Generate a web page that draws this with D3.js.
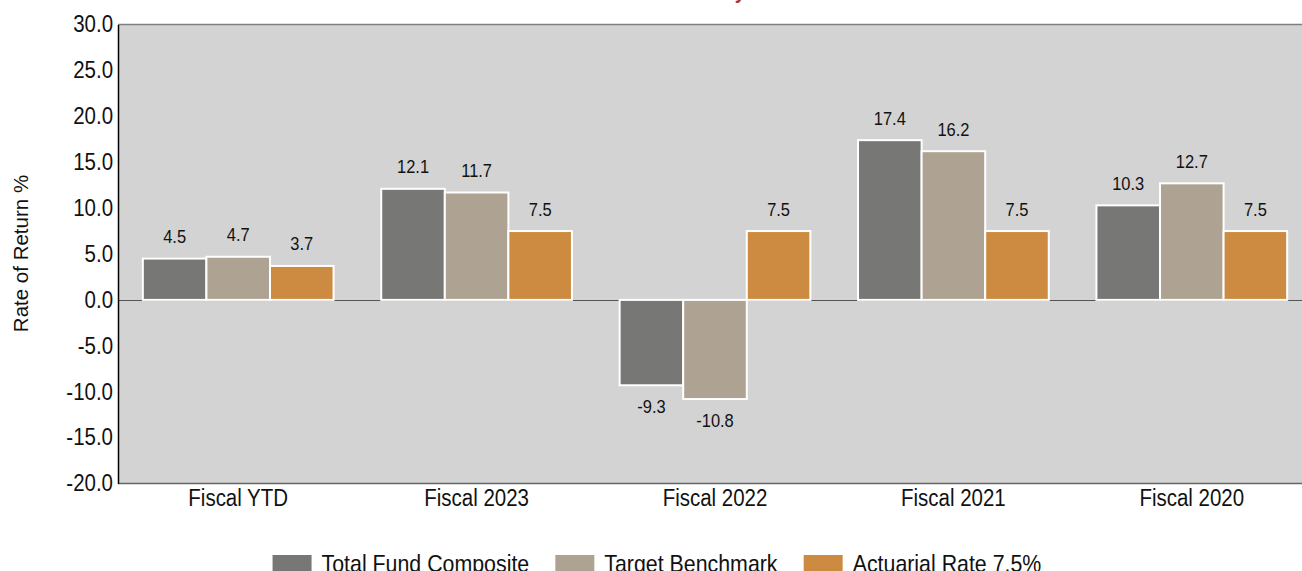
<!DOCTYPE html>
<html>
<head>
<meta charset="utf-8">
<script src="https://cdn.jsdelivr.net/npm/d3@7"></script>
<style>
  html, body { margin: 0; padding: 0; background: #fff; overflow: hidden; }
  svg { display: block; font-family: "Liberation Sans", Arial, sans-serif; }
</style>
</head>
<body>
<svg id="chart" width="1302" height="571"></svg>
<script>
// ---- data ----
const categories = ["Fiscal YTD", "Fiscal 2023", "Fiscal 2022", "Fiscal 2021", "Fiscal 2020"];
const seriesNames = ["Total Fund Composite", "Target Benchmark", "Actuarial Rate 7.5%"];
const totalFund = [4.5, 12.1, -9.3, 17.4, 10.3];
const targetBenchmark = [4.7, 11.7, -10.8, 16.2, 12.7];
const actuarialRate = [3.7, 7.5, 7.5, 7.5, 7.5];
const yTicks = [-20, -15, -10, -5, 0, 5, 10, 15, 20, 25, 30];
const colors = ["#777775", "#aea392", "#cd8b42"];
const titleText = "Total Fund Performance by Fiscal Year";
const yTitle = "Rate of Return %";

const seriesValues = [totalFund, targetBenchmark, actuarialRate];
const SX = 0.89; // horizontal condensation of text

const svg = d3.select("#chart");
const W = 1302, H = 571;
const plot = { left: 118, top: 24.5, right: 1311, bottom: 483.5 };

const y = d3.scaleLinear().domain([-20, 30]).range([plot.bottom, plot.top]);
const x0 = d3.scaleBand().domain(categories).range([119, 1311]).padding(0);
const x1 = d3.scaleBand().domain(d3.range(seriesNames.length))
  .range([x0.bandwidth() * 0.1, x0.bandwidth() * 0.9]).padding(0);

function addText(g, x, yy, str, size, anchor, opts = {}) {
  return g.append("text")
    .attr("transform", `translate(${x},${yy}) scale(${SX},1)`)
    .attr("text-anchor", anchor)
    .attr("font-size", size)
    .attr("fill", opts.fill || "#111")
    .attr("font-weight", opts.weight || "normal")
    .text(str);
}

// title (mostly above the visible area)
const title = svg.append("text")
  .attr("font-size", 22).attr("font-weight", "bold").attr("fill", "#a8382a")
  .attr("y", -2).attr("x", 0).text(titleText);
const idx = titleText.indexOf("by") + 1;
const off = title.node().getSubStringLength(0, idx);
title.attr("transform", `translate(${735 - off * SX},0) scale(${SX},1)`);

// plot background
svg.append("rect")
  .attr("x", plot.left).attr("y", plot.top)
  .attr("width", plot.right - plot.left).attr("height", plot.bottom - plot.top)
  .attr("fill", "#d3d3d3");

// top border
svg.append("line")
  .attr("x1", plot.left).attr("x2", W)
  .attr("y1", plot.top).attr("y2", plot.top)
  .attr("stroke", "#7f7f7f").attr("stroke-width", 1.5);

// bottom border
svg.append("line")
  .attr("x1", plot.left).attr("x2", W)
  .attr("y1", plot.bottom).attr("y2", plot.bottom)
  .attr("stroke", "#666").attr("stroke-width", 1.5);

// zero line
svg.append("line")
  .attr("x1", plot.left).attr("x2", W)
  .attr("y1", Math.round(y(0)) + 0.5).attr("y2", Math.round(y(0)) + 0.5)
  .attr("stroke", "#555").attr("stroke-width", 1);

// bars
const groups = svg.append("g").selectAll("g").data(categories).join("g")
  .attr("transform", d => `translate(${x0(d)},0)`);

groups.each(function (cat, ci) {
  const g = d3.select(this);
  seriesValues.forEach((vals, si) => {
    const v = vals[ci];
    g.append("rect")
      .attr("x", x1(si))
      .attr("y", y(Math.max(0, v)))
      .attr("width", x1.bandwidth())
      .attr("height", Math.abs(y(v) - y(0)))
      .attr("fill", colors[si])
      .attr("stroke", "#fff")
      .attr("stroke-width", 2);
  });
  seriesValues.forEach((vals, si) => {
    const v = vals[ci];
    const cx = x1(si) + x1.bandwidth() / 2;
    const ty = v >= 0 ? y(v) - 15.5 : y(v) + 28;
    addText(g, cx, ty, v.toFixed(1), 18.5, "middle");
  });
});

// y axis
const yAxis = svg.append("g")
  .attr("transform", `translate(${plot.left},0)`)
  .call(d3.axisLeft(y).tickValues(yTicks).tickFormat(d => d.toFixed(1)).tickSize(0).tickPadding(5.6));
yAxis.select(".domain").attr("stroke", "#000").attr("stroke-width", 1.5);
yAxis.selectAll("text")
  .attr("font-size", 23)
  .attr("fill", "#111")
  .attr("font-family", "\"Liberation Sans\", Arial, sans-serif")
  .attr("transform", `scale(${SX},1)`);

// x axis labels
const xAxis = svg.append("g")
  .attr("transform", `translate(0,${plot.bottom})`)
  .call(d3.axisBottom(x0).tickSize(0));
xAxis.select(".domain").remove();
xAxis.selectAll("text")
  .attr("y", 22.5).attr("dy", 0)
  .attr("font-size", 23)
  .attr("fill", "#111")
  .attr("font-family", "\"Liberation Sans\", Arial, sans-serif")
  .attr("transform", `scale(${SX},1)`);

// y axis title
svg.append("text")
  .attr("transform", `translate(28,253.5) rotate(-90)`)
  .attr("text-anchor", "middle")
  .attr("font-size", 20.5)
  .attr("fill", "#111")
  .text(yTitle);

// legend
const legend = svg.append("g");
const swW = 39, swH = 17, gapText = 10, gapItem = 26;
const legendY = 555;
const items = [];
let cursor = 0;
seriesNames.forEach((name, i) => {
  const t = legend.append("text")
    .attr("font-size", 24).attr("fill", "#111").text(name);
  const tw = t.node().getComputedTextLength() * SX;
  items.push({ t, x: cursor, tw, i });
  cursor += swW + gapText + tw + gapItem;
});
const totalW = cursor - gapItem;
const startX = 657 - totalW / 2;
items.forEach(it => {
  const sx = startX + it.x;
  legend.append("rect")
    .attr("x", sx).attr("y", legendY)
    .attr("width", swW).attr("height", swH)
    .attr("fill", colors[it.i]);
  it.t.attr("transform", `translate(${sx + swW + gapText},${legendY + 16.5}) scale(${SX},1)`);
});
</script>
</body>
</html>
